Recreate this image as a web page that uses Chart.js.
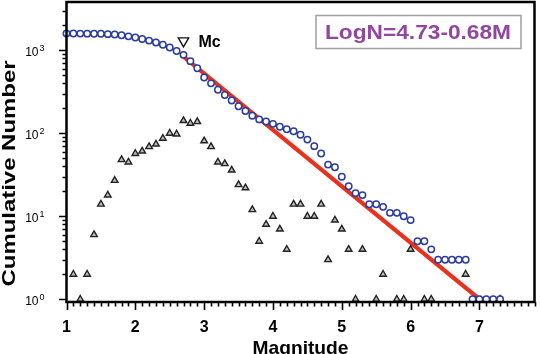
<!DOCTYPE html>
<html><head><meta charset="utf-8">
<script src="https://cdn.jsdelivr.net/npm/chart.js@4/dist/chart.umd.min.js"></script>
<style>html,body{margin:0;padding:0;background:#fff;}#wrap{width:540px;height:354px;position:relative;overflow:hidden}</style>
</head><body><div id="wrap"><canvas id="c" width="540" height="354"></canvas></div>
<script>
// ---- data ----
const magnitudes = [1.0,1.1,1.2,1.3,1.4,1.5,1.6,1.7,1.8,1.9,2.0,2.1,2.2,2.3,2.4,2.5,2.6,2.7,2.8,2.9,3.0,3.1,3.2,3.3,3.4,3.5,3.6,3.7,3.8,3.9,4.0,4.1,4.2,4.3,4.4,4.5,4.6,4.7,4.8,4.9,5.0,5.1,5.2,5.3,5.4,5.5,5.6,5.7,5.8,5.9,6.0,6.1,6.2,6.3,6.4,6.5,6.6,6.7,6.8,6.9,7.0,7.1,7.2,7.3];
const cumulativeN = [1591,1591,1589,1588,1586,1580,1566,1548,1521,1473,1428,1371,1310,1241,1167,1080,980,882,740,608,470,400,335,290,248,212,186,163,147,139,130,120,112,106,96,84,70,57,42,39,30,23,19,18,14,14,13,11,11,10,9,5,5,4,3,3,3,3,3,1,1,1,1,1];
const incM = [1.1,1.2,1.3,1.4,1.5,1.6,1.7,1.8,1.9,2.0,2.1,2.2,2.3,2.4,2.5,2.6,2.7,2.8,2.9,3.0,3.1,3.2,3.3,3.4,3.5,3.6,3.7,3.8,3.9,4.0,4.1,4.2,4.3,4.4,4.5,4.6,4.7,4.8,4.9,5.0,5.1,5.2,5.3,5.5,5.6,5.8,5.9,6.0,6.2,6.3,6.8,7.3];
const incN = [2,1,2,6,14,18,27,48,45,57,61,69,74,87,100,98,142,132,138,81,69,45,43,36,24,22,12,5,8,10,7,4,14,14,10,10,14,3,9,7,4,1,4,1,2,1,1,4,1,1,2,1];
const fitM = [2.7, 7.05];
const fitN = [840, 0.93];
const mcM = [2.7];
const mcN = [1300];
const mcLabel = 'Mc';
const xTickValues = [1,2,3,4,5,6,7];
const yTickValues = [1,10,100,1000];
const yTickExponents = ['0','1','2','3'];
const xTitle = 'Magnitude';
const yTitle = 'Cumulative Number';
const equationText = 'LogN=4.73-0.68M';

const pts = (xs, ys) => xs.map((v, i) => ({x: v, y: ys[i]}));

const decor = {
  id: 'decor',
  afterDraw(chart) {
    const {ctx, chartArea: a, scales: {x, y}} = chart;
    ctx.save();
    // frame
    ctx.strokeStyle = '#000';
    ctx.lineWidth = 2.5;
    ctx.strokeRect(a.left, a.top, a.right - a.left, a.bottom - a.top);
    // x ticks
    ctx.lineWidth = 1.6;
    ctx.beginPath();
    for (let i = 0; i <= 68; i++) {
      const v = 1 + i * 0.1;
      const px = Math.round(x.getPixelForValue(v)) + 0.5;
      const major = i % 10 === 0;
      ctx.moveTo(px, a.bottom);
      ctx.lineTo(px, a.bottom + (major ? 8 : 4.5));
    }
    // y ticks (log)
    for (let d = 0; d <= 3; d++) {
      for (let m = 1; m <= 9; m++) {
        const v = m * Math.pow(10, d);
        if (v > y.max) break;
        const py = Math.round(y.getPixelForValue(v)) + 0.5;
        ctx.moveTo(a.left, py);
        ctx.lineTo(a.left - (m === 1 ? 7.5 : 4), py);
      }
    }
    ctx.stroke();
    // x tick labels
    ctx.fillStyle = '#000';
    ctx.font = 'bold 16px "Liberation Sans", Arial, sans-serif';
    ctx.textAlign = 'center';
    ctx.textBaseline = 'alphabetic';
    xTickValues.forEach(v => ctx.fillText(String(v), x.getPixelForValue(v), 331.5));
    // y tick labels
    yTickValues.forEach((v, i) => {
      const py = y.getPixelForValue(v);
      ctx.font = '12px "Liberation Sans", Arial, sans-serif';
      ctx.textAlign = 'right';
      ctx.fillText('10', 38.5, py + 5.8);
      ctx.font = '9px "Liberation Sans", Arial, sans-serif';
      ctx.textAlign = 'left';
      ctx.fillText(yTickExponents[i], 39.5, py + 0.3);
    });
    // x title
    ctx.font = 'bold 19px "Liberation Sans", Arial, sans-serif';
    ctx.textAlign = 'center';
    let w = ctx.measureText(xTitle).width;
    ctx.save();
    ctx.translate(300.5, 353.5);
    ctx.scale(96 / w, 1);
    ctx.fillText(xTitle, 0, 0);
    ctx.restore();
    // y title
    ctx.font = 'bold 19px "Liberation Sans", Arial, sans-serif';
    w = ctx.measureText(yTitle).width;
    ctx.save();
    ctx.translate(15, 173.5);
    ctx.rotate(-Math.PI / 2);
    ctx.scale(226 / w, 1);
    ctx.fillText(yTitle, 0, 0);
    ctx.restore();
    // Mc label
    ctx.font = 'bold 16px "Liberation Sans", Arial, sans-serif';
    ctx.textAlign = 'left';
    ctx.fillText(mcLabel, x.getPixelForValue(mcM[0]) + 15, y.getPixelForValue(mcN[0]) + 6.5);
    // equation box
    ctx.fillStyle = '#fff';
    ctx.fillRect(316, 15.5, 205, 33);
    ctx.strokeStyle = '#a0a0a0';
    ctx.lineWidth = 1.5;
    ctx.strokeRect(316, 15.5, 205, 33);
    ctx.fillStyle = '#9146A0';
    ctx.font = 'bold 20px "Liberation Sans", Arial, sans-serif';
    ctx.textAlign = 'center';
    w = ctx.measureText(equationText).width;
    ctx.save();
    ctx.translate(418, 38.5);
    ctx.scale(186 / w, 1);
    ctx.fillText(equationText, 0, 0);
    ctx.restore();
    ctx.restore();
  }
};

new Chart(document.getElementById('c'), {
  type: 'scatter',
  data: {
    datasets: [
      {
        label: 'fit', data: pts(fitM, fitN), showLine: true,
        borderColor: '#E8321E', borderWidth: 4.2, pointRadius: 0, order: 5, clip: 0
      },
      {
        label: 'incremental', data: pts(incM, incN), pointStyle: 'triangle',
        pointRadius: 3.8, borderWidth: 1.4, borderColor: '#222', backgroundColor: '#bdbdbd',
        order: 2, clip: false
      },
      {
        label: 'cumulative', data: pts(magnitudes, cumulativeN), pointStyle: 'circle',
        pointRadius: 3.2, borderWidth: 1.5, borderColor: '#2B3C9E', backgroundColor: '#ffffff',
        order: 1, clip: false
      },
      {
        label: 'Mc', data: pts(mcM, mcN), pointStyle: 'triangle', rotation: 180,
        pointRadius: 6, borderWidth: 1.4, borderColor: '#111', backgroundColor: '#ffffff',
        order: 0, clip: false
      }
    ]
  },
  options: {
    responsive: false, devicePixelRatio: 1, animation: false,
    layout: {autoPadding: false, padding: {top: 2, right: 5.5, left: 0, bottom: 0}},
    plugins: {legend: {display: false}, tooltip: {enabled: false}},
    scales: {
      x: {
        type: 'linear', min: 1, max: 7.8,
        grid: {display: false, drawTicks: false}, border: {display: false},
        ticks: {display: false},
        afterFit: s => { s.height = 52; }
      },
      y: {
        type: 'logarithmic', min: 0.928, max: 3820,
        grid: {display: false, drawTicks: false}, border: {display: false},
        ticks: {display: false},
        afterFit: s => { s.width = 66.5; }
      }
    }
  },
  plugins: [decor]
});
</script>
</body></html>
